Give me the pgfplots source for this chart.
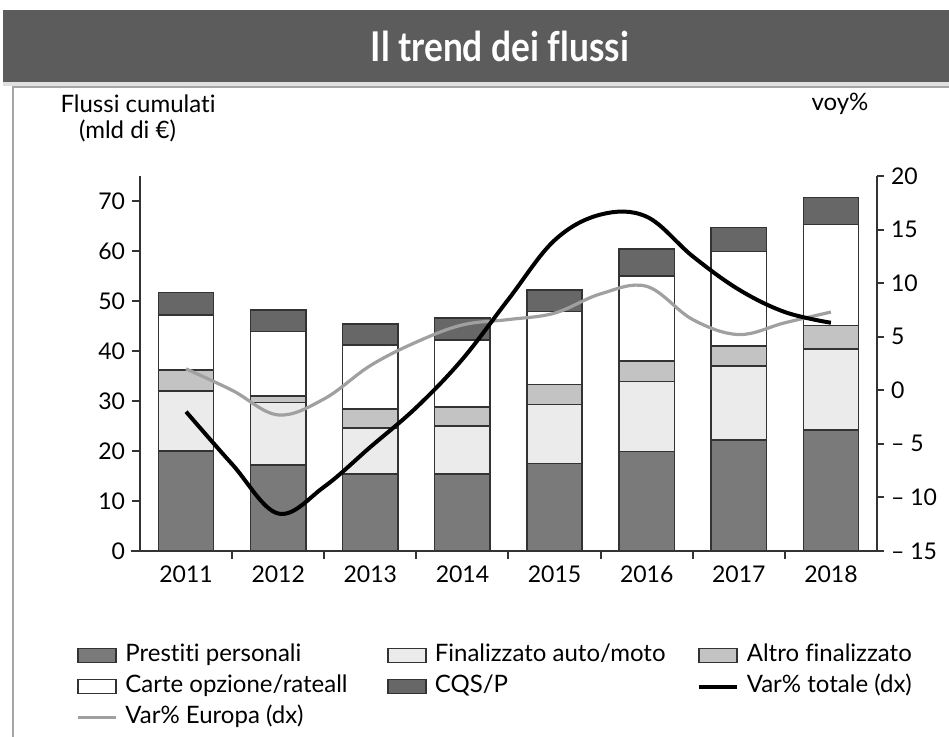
\documentclass[border=0pt]{standalone}
\usepackage{fontspec}
\setmainfont{Lato}[Ligatures=NoCommon]
\usepackage{graphicx}
\usepackage{pgfplots}
\usepackage{pgfplotstable}
\pgfplotsset{compat=1.18}

\definecolor{prest}{HTML}{7A7A7A}
\definecolor{fin}{HTML}{EBEBEB}
\definecolor{altro}{HTML}{C3C3C3}
\definecolor{cqs}{HTML}{676767}
\definecolor{eur}{HTML}{A0A0A0}
\definecolor{axc}{HTML}{333333}
\definecolor{titlebg}{HTML}{5C5C5C}

\pgfplotstableread{
x P F A C Q
0 20.0 12.0 4.2 11.0 4.5
1 17.2 12.5 1.3 12.9 4.3
2 15.4 9.2 3.8 12.8 4.2
3 15.4 9.6 3.8 13.4 4.4
4 17.5 11.8 4.0 14.6 4.3
5 19.9 14.0 4.1 17.0 5.4
6 22.2 14.8 4.0 18.9 4.8
7 24.2 16.2 4.7 20.2 5.4
}\bars

\pgfplotstableread{
x v
0 -2.0
0.5 -6.9
1 -11.5
1.5 -9.0
2 -5.3
2.5 -1.6
3 2.9
3.5 8.5
4 14.0
4.5 16.4
5 16.2
5.5 12.5
6 9.4
6.5 7.3
7 6.3
}\tot

\pgfplotstableread{
x v
0 2.0
0.5 0.0
1 -2.3
1.5 -0.8
2 2.3
2.5 4.5
3 6.1
3.5 6.6
4 7.2
4.5 9.0
5 9.7
5.5 6.6
6 5.2
6.5 6.3
7 7.3
}\eur

\pgfplotsset{
  barleg/.style={legend image code/.code={\draw[##1, draw=axc, line width=0.7pt] (0pt,-3.5pt) rectangle (19pt,3.5pt);}},
  lineleg/.style={legend image code/.code={\draw[##1] (0pt,0pt) -- (19pt,0pt);}},
}

\begin{document}
\begin{tikzpicture}
\useasboundingbox (0pt,0pt) rectangle (474.5pt,368.5pt);
\fill[white] (0pt,0pt) rectangle (474.5pt,368.5pt);
% panel
\draw[black!35, line width=1pt] (6.5pt,-5pt) rectangle (480pt,325pt);
% title bar
\fill[black!12] (1.5pt,325.5pt) rectangle (474.5pt,327.5pt);
\fill[titlebg] (1.5pt,327.5pt) rectangle (474.5pt,363.5pt);
\node[text=white, font=\fontsize{20.5}{22}\selectfont\bfseries] at (250pt,345.5pt) {\scalebox{0.86}[1]{Il trend dei flussi}};
% axis titles
\node[font=\fontsize{12}{13}\selectfont] at (69pt,316.5pt) {Flussi cumulati};
\node[font=\fontsize{12}{13}\selectfont] at (63.75pt,303pt) {(mld di €)};
\node[font=\fontsize{12}{13}\selectfont] at (420pt,316.5pt) {voy\%};

\begin{axis}[
  at={(70pt,93pt)}, anchor=south west,
  width=368.5pt, height=187.5pt, scale only axis,
  xmin=-0.5, xmax=7.5, ymin=0, ymax=75,
  axis x line*=bottom, axis y line*=left,
  axis line style={axc, line width=1pt, -},
  ybar stacked, bar width=0.6,
  xtick={0,...,7},
  xticklabels={2011,2012,2013,2014,2015,2016,2017,2018},
  minor xtick={0.5,1.5,...,6.5},
  major x tick style={draw=none},
  minor x tick style={axc, line width=1pt},
  minor tick length=4pt,
  ytick={0,10,...,70},
  yticklabels={0,10,20,30,40,50,60,70},
  major y tick style={axc, line width=1pt},
  major tick length=4pt,
  tick align=outside,
  ticklabel style={font=\fontsize{11.5}{12}\selectfont},
  clip=false,
  legend columns=3,
  legend cell align=left,
  legend style={at={(axis description cs:-0.0868,-0.237)}, anchor=north west,
    draw=none, fill=none, inner sep=0pt, row sep=0pt,
    font=\fontsize{12}{13}\selectfont,
    nodes={inner sep=1.5pt, text height=9pt, text depth=3.5pt},
    /tikz/every odd column/.append style={column sep=2.5pt},
    /tikz/every even column/.append style={column sep=0pt}},
]
\addplot[fill=prest, draw=axc, line width=0.7pt, barleg] table[x=x, y=P] {\bars};
\addplot[fill=fin, draw=axc, line width=0.7pt, barleg] table[x=x, y=F] {\bars};
\addplot[fill=altro, draw=axc, line width=0.7pt, barleg] table[x=x, y=A] {\bars};
\addplot[fill=white, draw=axc, line width=0.7pt, barleg] table[x=x, y=C] {\bars};
\addplot[fill=cqs, draw=axc, line width=0.7pt, barleg] table[x=x, y=Q] {\bars};
\addlegendimage{lineleg, black, line width=2pt}
\addlegendimage{lineleg, eur, line width=1.5pt}
\legend{\makebox[129.5pt][l]{Prestiti personali},\makebox[129.5pt][l]{Finalizzato auto/moto},Altro finalizzato,
\makebox[129.5pt][l]{Carte opzione/rateall},\makebox[129.5pt][l]{CQS/P},Var\% totale (dx),
Var\% Europa (dx)}
\draw[axc, line width=1pt] (axis cs:-0.6,0) -- (axis cs:-0.5,0);
\end{axis}

\begin{axis}[
  at={(70pt,93pt)}, anchor=south west,
  width=368.5pt, height=187.5pt, scale only axis,
  xmin=-0.5, xmax=7.5, ymin=-15, ymax=20,
  axis x line=none, axis y line*=right,
  axis line style={axc, line width=1pt, -},
  ytick={-15,-10,...,20},
  yticklabels={– 15,– 10,– 5,0,5,10,15,20},
  yticklabel style={anchor=west, font=\fontsize{11.5}{12}\selectfont},
  major y tick style={axc, line width=1pt},
  major tick length=3.5pt,
  tick align=outside,
]
\addplot[eur, line width=1.6pt, smooth, tension=0.6] table[x=x, y=v] {\eur};
\addplot[black, line width=2pt, smooth, tension=0.6] table[x=x, y=v] {\tot};
\end{axis}
\end{tikzpicture}
\end{document}
